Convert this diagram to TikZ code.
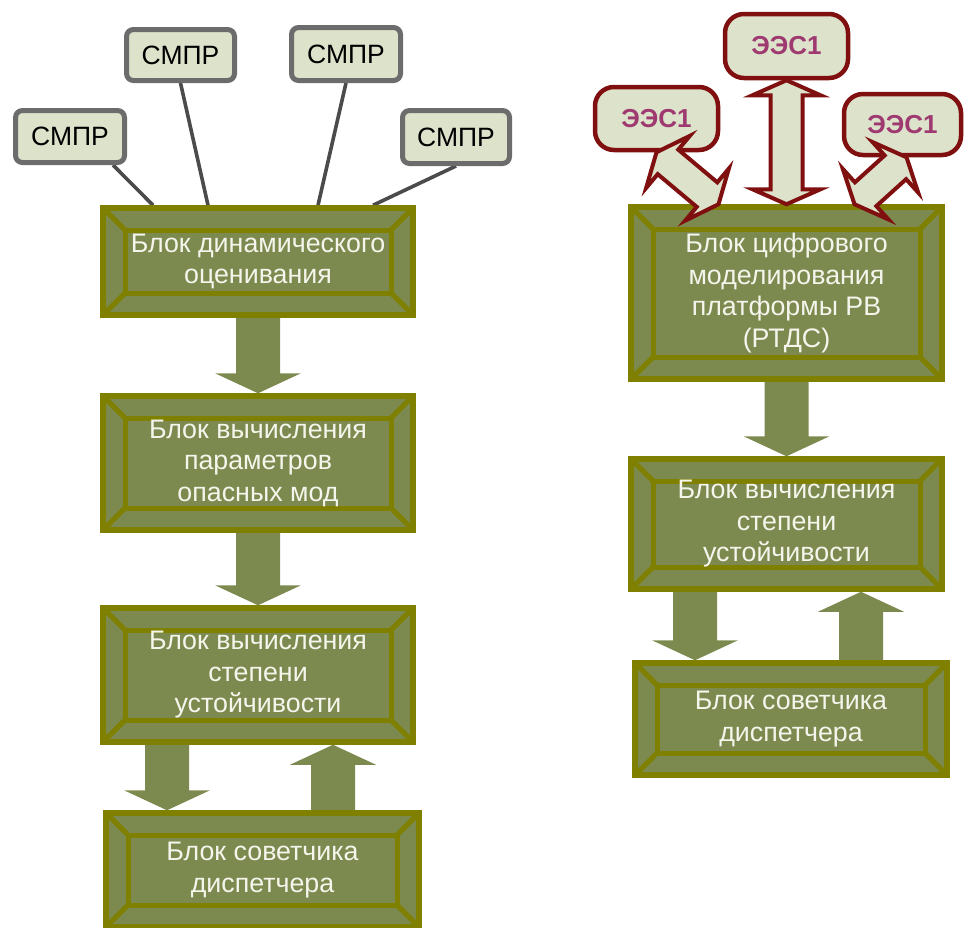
\documentclass[tikz,border=0pt]{standalone}
\usepackage{fontspec}
\setmainfont{Liberation Sans}
\usetikzlibrary{calc,backgrounds}

\definecolor{blockfill}{RGB}{124,138,79}
\definecolor{blockedge}{RGB}{128,128,0}
\definecolor{blocktext}{RGB}{245,245,236}
\definecolor{palefill}{RGB}{221,226,203}
\definecolor{grayedge}{RGB}{108,108,108}
\definecolor{linkgray}{RGB}{75,75,75}
\definecolor{darkred}{RGB}{128,16,16}
\definecolor{eestext}{RGB}{158,58,112}

\tikzset{
  bevelbox/.style={rectangle, draw=blockedge, line width=5.5pt, fill=blockfill,
    text=blocktext, align=center, inner sep=0pt,
    font=\fontsize{26.8}{31.5}\selectfont,
    path picture={
      \draw[blockedge, line width=5pt]
        ([shift={(22pt,-22pt)}]path picture bounding box.north west) rectangle
        ([shift={(-22pt,22pt)}]path picture bounding box.south east);
      \draw[blockedge, line width=5pt]
        (path picture bounding box.north west) -- ([shift={(22pt,-22pt)}]path picture bounding box.north west)
        (path picture bounding box.north east) -- ([shift={(-22pt,-22pt)}]path picture bounding box.north east)
        (path picture bounding box.south west) -- ([shift={(22pt,22pt)}]path picture bounding box.south west)
        (path picture bounding box.south east) -- ([shift={(-22pt,22pt)}]path picture bounding box.south east);
    }},
  sensorbox/.style={rectangle, rounded corners=7pt, draw=grayedge, line width=5pt,
    fill=palefill, text=black, inner sep=0pt, font=\fontsize{26.5}{30}\selectfont},
  eesbox/.style={rectangle, rounded corners=19pt, draw=darkred, line width=4.5pt,
    fill=palefill, text=eestext, inner sep=0pt, font=\bfseries\fontsize{26}{30}\selectfont},
  sensorlink/.style={draw=linkgray, line width=3.6pt},
  eesarrow/.style={fill=palefill, draw=darkred, line width=4pt},
}

% single block arrow from #1 to the tip at #2
\newcommand\flowarrow[2]{%
  \coordinate (fa-base) at ($(#2)!20pt!(#1)$);
  \fill[blockfill] ($(#1)!22pt!90:(#2)$) -- ($(fa-base)!22pt!-90:(#1)$)
    -- ($(fa-base)!43pt!-90:(#1)$) -- (#2) -- ($(fa-base)!43pt!90:(#1)$)
    -- ($(fa-base)!22pt!90:(#1)$) -- ($(#1)!22pt!-90:(#2)$) -- cycle;}

% double-headed outlined arrow between #1 and #2
\newcommand\twowayarrow[2]{%
  \coordinate (tw-a) at ($(#1)!15pt!(#2)$);
  \coordinate (tw-b) at ($(#2)!15pt!(#1)$);
  \filldraw[eesarrow] (#1) -- ($(tw-a)!34pt!90:(#2)$) -- ($(tw-a)!16pt!90:(#2)$)
    -- ($(tw-b)!16pt!-90:(#1)$) -- ($(tw-b)!34pt!-90:(#1)$) -- (#2)
    -- ($(tw-b)!34pt!90:(#1)$) -- ($(tw-b)!16pt!90:(#1)$)
    -- ($(tw-a)!16pt!-90:(#2)$) -- ($(tw-a)!34pt!-90:(#2)$) -- cycle;}

\begin{document}
\begin{tikzpicture}[x=1pt,y=-1pt]
\useasboundingbox (0,0) rectangle (965,927);

% left column
\node[bevelbox, minimum width=310pt, minimum height=107pt] (B1) at (258,261.5) {Блок динамического\\оценивания};
\node[bevelbox, minimum width=310pt, minimum height=134pt] (B2) at (258,463) {Блок вычисления\\параметров\\опасных мод};
\node[bevelbox, minimum width=310pt, minimum height=134pt] (B3) at (258,675) {Блок вычисления\\степени\\устойчивости};
\node[bevelbox, minimum width=313pt, minimum height=114pt] (B4) at (262.5,870) {Блок советчика\\диспетчера};

% measurement units
\node[sensorbox, minimum width=109pt, minimum height=52pt] (s1) at (70,136.5) {СМПР};
\node[sensorbox, minimum width=108pt, minimum height=51pt] (s2) at (180.5,55) {СМПР};
\node[sensorbox, minimum width=109pt, minimum height=53pt] (s3) at (346,54) {СМПР};
\node[sensorbox, minimum width=107pt, minimum height=53pt] (s4) at (456,137) {СМПР};

% right column
\node[bevelbox, minimum width=311pt, minimum height=172pt] (R1) at (786.5,293) {Блок цифрового\\моделирования\\платформы РВ\\(РТДС)};
\node[bevelbox, minimum width=311pt, minimum height=130pt] (R2) at (786.5,524) {Блок вычисления\\степени\\устойчивости};
\node[bevelbox, minimum width=312pt, minimum height=112pt] (R3) at (791,719) {Блок советчика\\диспетчера};

% power systems
\node[eesbox, minimum width=123pt, minimum height=63pt] (e1) at (656.5,118.5) {ЭЭС1};
\node[eesbox, minimum width=123pt, minimum height=64pt] (e2) at (786.5,46) {ЭЭС1};
\node[eesbox, minimum width=117pt, minimum height=61pt] (e3) at (902.5,124.5) {ЭЭС1};

% attachment points
\coordinate (d3) at ([xshift=-91pt]B3.south);
\coordinate (u3) at ([xshift=75pt]B3.south);
\coordinate (dR) at ([xshift=-91.5pt]R2.south);
\coordinate (uR) at ([xshift=74.5pt]R2.south);
\coordinate (R1l) at ([xshift=-68pt]R1.north);
\coordinate (R1r) at ([xshift=68pt]R1.north);
\coordinate (e3b) at ([xshift=4pt]e3.south);

\begin{scope}[on background layer]
  \draw[sensorlink] ([xshift=43pt]s1.south) -- ([xshift=-105pt]B1.north);
  \draw[sensorlink] (s2.south) -- ([xshift=-50pt]B1.north);
  \draw[sensorlink] (s3.south) -- ([xshift=60pt]B1.north);
  \draw[sensorlink] (s4.south) -- ([xshift=115pt]B1.north);

  \flowarrow{B1.south}{B2.north}
  \flowarrow{B2.south}{B3.north}
  \flowarrow{d3}{d3 |- B4.north}
  \flowarrow{u3 |- B4.north}{u3}
  \flowarrow{R1.south}{R2.north}
  \flowarrow{dR}{dR |- R3.north}
  \flowarrow{uR |- R3.north}{uR}
\end{scope}

\twowayarrow{e2.south}{R1.north}
\twowayarrow{e1.south}{R1l}
\twowayarrow{e3b}{R1r}
\end{tikzpicture}
\end{document}
